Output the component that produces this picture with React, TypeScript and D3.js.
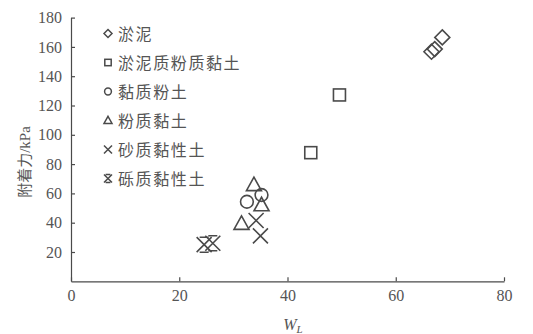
import { useEffect, useRef } from 'react';
import * as d3 from 'd3';

// values
const soilTypes = ['淤泥', '淤泥质粉质黏土', '黏质粉土', '粉质黏土', '砂质黏性土', '砾质黏性土'];
const symbols = ['diamond', 'square', 'circle', 'triangle', 'cross', 'asterisk'];
const wlValues = [
  [66.6, 67.2, 68.6],
  [44.3, 49.6],
  [32.5, 35.2],
  [33.8, 35.2, 31.5],
  [34.2, 35.0],
  [24.6, 26.2],
];
const adhesion = [
  [156.7, 158.5, 166.5],
  [87.8, 127.2],
  [54.3, 58.9],
  [65.7, 52.0, 39.3],
  [41.5, 31.0],
  [25.0, 26.0],
];
const xTicks = [0, 20, 40, 60, 80];
const yTicks = [20, 40, 60, 80, 100, 120, 140, 160, 180];

const INK = '#4a4a4a';
const LABEL = '#555';
const FONT = '"Liberation Serif", "Noto Sans CJK SC", serif';

function drawMarker(g: d3.Selection<SVGGElement, unknown, null, undefined>, type: string, cx: number, cy: number, r: number, sw = 1.6) {
  const s = g.append('g').attr('transform', `translate(${cx},${cy})`)
    .attr('fill', 'none').attr('stroke', INK).attr('stroke-width', sw);
  if (type === 'diamond') {
    s.append('path').attr('d', `M0,${-r}L${r},0L0,${r}L${-r},0Z`);
  } else if (type === 'square') {
    s.append('rect').attr('x', -r * 0.8).attr('y', -r * 0.8).attr('width', r * 1.6).attr('height', r * 1.6);
  } else if (type === 'circle') {
    s.append('circle').attr('r', r * 0.85);
  } else if (type === 'triangle') {
    s.append('path').attr('d', `M0,${-r * 1.05}L${r},${r * 0.75}L${-r},${r * 0.75}Z`);
  } else if (type === 'cross') {
    s.append('path').attr('d', `M${-r},${-r}L${r},${r}M${r},${-r}L${-r},${r}`);
  } else {
    s.append('path').attr('d', `M${-r},${-r}L${r},${r}M${r},${-r}L${-r},${r}M${-r * 0.6},${-r}L${r * 0.6},${-r}M${-r * 0.6},${r}L${r * 0.6},${r}`);
  }
}

export default function App() {
  const svgRef = useRef<SVGSVGElement>(null);

  useEffect(() => {
    if (!svgRef.current) return;
    document.body.style.margin = '0';
    const svg = d3.select(svgRef.current);
    svg.selectAll('*').remove();

    const x = d3.scaleLinear().domain([0, 80]).range([71, 504]);
    const y = d3.scaleLinear().domain([0, 180]).range([281.3, 17.6]);

    // x axis
    const xa = svg.append('g').attr('transform', `translate(0,${y(0)})`)
      .call(d3.axisBottom(x).tickValues(xTicks).tickSizeInner(-4).tickSizeOuter(0).tickPadding(8));
    xa.select('.domain').attr('stroke', INK).attr('stroke-width', 1.2);
    xa.selectAll('line').attr('stroke', INK).attr('stroke-width', 1.2);
    xa.selectAll('text').attr('fill', LABEL).attr('font-size', 16).attr('font-family', FONT);

    // y axis
    const ya = svg.append('g').attr('transform', `translate(${x(0)},0)`)
      .call(d3.axisLeft(y).tickValues(yTicks).tickSizeInner(-4).tickSizeOuter(0).tickPadding(9));
    ya.select('.domain').attr('stroke', INK).attr('stroke-width', 1.2);
    ya.selectAll('line').attr('stroke', INK).attr('stroke-width', 1.2);
    ya.selectAll('text').attr('fill', LABEL).attr('font-size', 16).attr('font-family', FONT);

    // axis titles
    svg.append('text').attr('transform', `translate(30,162) rotate(-90)`)
      .attr('text-anchor', 'middle').attr('fill', LABEL).attr('font-size', 15).attr('font-family', FONT)
      .text('附着力/kPa');
    const xt = svg.append('text').attr('x', 293).attr('y', 330)
      .attr('text-anchor', 'middle').attr('fill', LABEL).attr('font-size', 16).attr('font-family', FONT)
      .attr('font-style', 'italic');
    xt.append('tspan').text('W');
    xt.append('tspan').attr('font-size', 11).attr('dy', 3).text('L');

    // points
    const pts = svg.append('g');
    soilTypes.forEach((_, i) => {
      wlValues[i].forEach((wl, j) => {
        drawMarker(pts, symbols[i], x(wl), y(adhesion[i][j]), 7.5);
      });
    });

    // legend
    const lg = svg.append('g');
    soilTypes.forEach((name, i) => {
      const cy = 33.5 + i * 29;
      drawMarker(lg, symbols[i], 108, cy, 4, 1.5);
      lg.append('text').attr('x', 118).attr('y', cy + 6).attr('fill', LABEL)
        .attr('font-size', 16).attr('letter-spacing', 1.6).attr('font-family', FONT).text(name);
    });
  }, []);

  return <svg ref={svgRef} width={533} height={334} style={{ display: 'block', background: '#fff' }} />;
}
